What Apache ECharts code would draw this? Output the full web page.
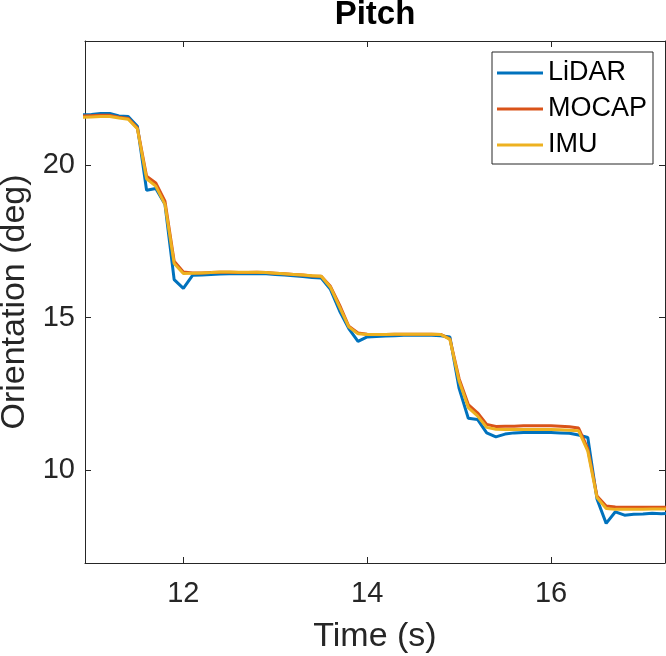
<!DOCTYPE html>
<html>
<head>
<meta charset="utf-8">
<script src="https://cdn.jsdelivr.net/npm/echarts@6/dist/echarts.min.js"></script>
<style>html,body{margin:0;padding:0;background:#fff}#c{width:666px;height:656px}</style>
</head>
<body>
<div id="c"></div>
<script>
const time = [10.9,11.0,11.1,11.2,11.3,11.4,11.5,11.6,11.7,11.8,11.9,12.0,12.1,12.2,12.3,12.4,12.5,12.6,12.7,12.8,12.9,13.0,13.1,13.2,13.3,13.4,13.5,13.6,13.7,13.8,13.9,14.0,14.1,14.2,14.3,14.4,14.5,14.6,14.7,14.8,14.9,15.0,15.1,15.2,15.3,15.4,15.5,15.6,15.7,15.8,15.9,16.0,16.1,16.2,16.3,16.4,16.5,16.6,16.7,16.8,16.9,17.0,17.1,17.2,17.3];
const lidar = [21.66,21.67,21.70,21.70,21.62,21.60,21.28,19.18,19.24,18.72,16.25,15.96,16.39,16.40,16.42,16.43,16.44,16.44,16.44,16.45,16.44,16.42,16.40,16.38,16.35,16.32,16.30,15.93,15.22,14.64,14.22,14.37,14.38,14.40,14.41,14.42,14.42,14.42,14.42,14.41,14.37,12.68,11.70,11.66,11.22,11.09,11.18,11.22,11.23,11.23,11.23,11.23,11.22,11.21,11.15,11.07,9.05,8.25,8.63,8.52,8.55,8.56,8.58,8.57,8.58];
const mocap = [21.62,21.63,21.64,21.64,21.58,21.54,21.22,19.64,19.42,18.82,16.85,16.50,16.47,16.47,16.48,16.49,16.49,16.48,16.48,16.49,16.48,16.46,16.44,16.42,16.40,16.37,16.36,16.03,15.41,14.72,14.50,14.46,14.45,14.45,14.46,14.46,14.46,14.46,14.46,14.45,14.30,13.00,12.15,11.88,11.50,11.43,11.44,11.44,11.45,11.45,11.45,11.45,11.44,11.42,11.38,10.70,9.15,8.82,8.79,8.78,8.78,8.78,8.78,8.78,8.78];
const imu = [21.58,21.59,21.60,21.60,21.55,21.51,21.20,19.56,19.32,18.72,16.78,16.45,16.46,16.47,16.48,16.50,16.50,16.49,16.49,16.49,16.48,16.46,16.44,16.42,16.40,16.38,16.36,16.00,15.35,14.70,14.47,14.45,14.45,14.45,14.46,14.46,14.46,14.46,14.46,14.45,14.29,12.92,12.05,11.78,11.40,11.34,11.33,11.33,11.33,11.33,11.33,11.33,11.32,11.31,11.29,10.62,9.10,8.74,8.71,8.71,8.71,8.71,8.72,8.72,8.72];
const seriesNames = ['LiDAR','MOCAP','IMU'];
const xTicks = [12,14,16];
const yTicks = [10,15,20];

const colors = ['#0072BD','#D95319','#EDB120'];
const FONT = '"Liberation Sans", Arial, Helvetica, sans-serif';
const AX = '#262626';
const xr = {min:10.93, max:17.24};
const yr = {min:6.95, max:24.08};
const zip = ys => time.map((t,i)=>[t, ys[i]]);

const chart = echarts.init(document.getElementById('c'), null, {renderer:'canvas'});
const baseX = (pos, labels) => ({
  type:'value', position:pos, min:xr.min, max:xr.max,
  axisLine:{show:true, onZero:false, lineStyle:{color:AX, width:1}},
  axisTick:{show:true, inside:true, length:6, customValues:xTicks, lineStyle:{color:AX}},
  axisLabel:{show:labels, customValues:xTicks, fontSize:29, fontFamily:FONT, color:AX, margin:16},
  splitLine:{show:false}
});
const baseY = (pos, labels) => ({
  type:'value', position:pos, min:yr.min, max:yr.max,
  axisLine:{show:true, onZero:false, lineStyle:{color:AX, width:1}},
  axisTick:{show:true, inside:true, length:6, customValues:yTicks, lineStyle:{color:AX}},
  axisLabel:{show:labels, customValues:yTicks, fontSize:29, fontFamily:FONT, color:AX, margin:10},
  splitLine:{show:false}
});
const x0 = baseX('bottom', true);
x0.name = 'Time (s)'; x0.nameLocation='middle'; x0.nameGap=57;
x0.nameTextStyle = {fontSize:34, fontFamily:FONT, color:AX};
const y0 = baseY('left', true);
y0.name = 'Orientation (deg)'; y0.nameLocation='middle'; y0.nameGap=46;
y0.nameTextStyle = {fontSize:34, fontFamily:FONT, color:AX};

chart.setOption({
  animation:false,
  backgroundColor:'#fff',
  grid:{left:85, right:1, top:41, bottom:93, containLabel:false, outerBoundsMode:'none'},
  graphic:[{type:'text', x:375, y:15, style:{text:'Pitch', font:'bold 33px '+FONT, fill:'#000', textAlign:'center', textVerticalAlign:'middle'}}],
  xAxis:[x0, baseX('top', false)],
  yAxis:[y0, baseY('right', false)],
  legend:{
    orient:'vertical', left:492, top:52, padding:[6,6,4,5],
    borderColor:AX, borderWidth:1, backgroundColor:'#fff',
    itemWidth:46, itemHeight:3, itemGap:6, icon:'rect',
    textStyle:{fontSize:27, fontFamily:FONT, color:'#000', lineHeight:30},
    data:seriesNames
  },
  series:[lidar, mocap, imu].map((d,i)=>({
    name:seriesNames[i], type:'line', data:zip(d), showSymbol:false, symbol:'none',
    xAxisIndex:0, yAxisIndex:0, clip:true,
    lineStyle:{color:colors[i], width:3}, itemStyle:{color:colors[i]}, z:2+i
  }))
});
</script>
</body>
</html>
